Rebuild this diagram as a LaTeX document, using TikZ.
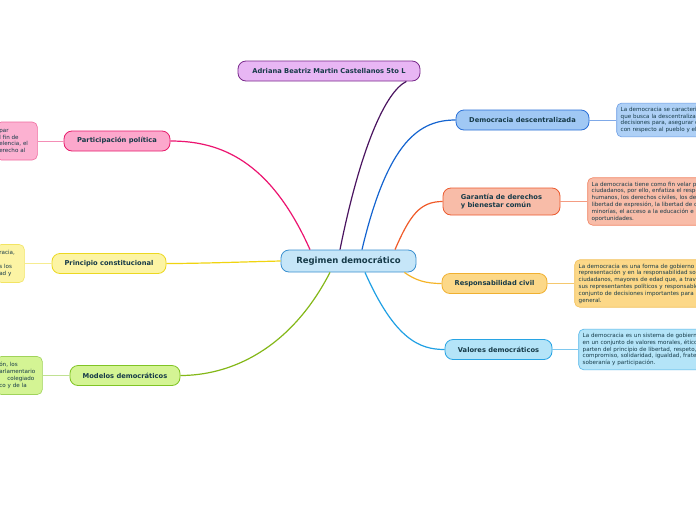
\documentclass[tikz,border=0pt]{standalone}
\usepackage{fontspec}
\setmainfont{DejaVu Sans}
\usetikzlibrary{positioning}

\definecolor{ink}{HTML}{163A48}
\definecolor{rootfill}{HTML}{C6E6F8}  \definecolor{rootline}{HTML}{3A90D0}
\definecolor{authfill}{HTML}{E8B6F4}  \definecolor{authline}{HTML}{7A2A8C}  \definecolor{authwire}{HTML}{4A1460}
\definecolor{descfill}{HTML}{A0C8F4}  \definecolor{descline}{HTML}{2A70D8}  \definecolor{descwire}{HTML}{1464D0}
\definecolor{garfill}{HTML}{F8BCA8}   \definecolor{garline}{HTML}{EC5A2E}   \definecolor{garwire}{HTML}{F05A28}
\definecolor{respfill}{HTML}{FCD888}  \definecolor{respline}{HTML}{F0B030}  \definecolor{respwire}{HTML}{F5B428}
\definecolor{valfill}{HTML}{B4E4F8}   \definecolor{valline}{HTML}{28A4E4}   \definecolor{valwire}{HTML}{20A0E4}
\definecolor{partfill}{HTML}{FCA8CC}  \definecolor{partline}{HTML}{E81C6C}  \definecolor{partwire}{HTML}{EC1470}
\definecolor{prinfill}{HTML}{FCF4A4}  \definecolor{prinline}{HTML}{ECD820}  \definecolor{prinwire}{HTML}{F0D410}
\definecolor{modfill}{HTML}{D4F494}   \definecolor{modline}{HTML}{80C424}   \definecolor{modwire}{HTML}{84B818}

\begin{document}
\begin{tikzpicture}[x=1pt, y=-1pt,
  topic/.style={rectangle, rounded corners=8pt, draw, line width=0.8pt, minimum height=20pt, align=center, text=ink, font=\fontsize{6.7}{8}\selectfont\bfseries},
  note/.style={rectangle, rounded corners=5pt, draw, line width=0.6pt, align=left, inner sep=4pt, text=ink, font=\fontsize{5.6}{6.8}\selectfont},
  branch/.style={line width=1.2pt},
  link/.style={line width=0.7pt}]

\fill[white] (0,0) rectangle (696,520);
\clip (0,0) rectangle (696,520);

% central topic and author
\node[topic, fill=rootfill, draw=rootline, minimum width=135pt, minimum height=22pt, font=\fontsize{8.5}{10}\selectfont\bfseries] (root) at (348.5,261) {Regimen democrático};
\node[topic, fill=authfill, draw=authline, minimum width=182pt] (author) at (329,71) {Adriana Beatriz Martin Castellanos 5to L};

% right branches
\node[topic, fill=descfill, draw=descline, minimum width=133pt] (descent) at (522.5,120) {Democracia descentralizada};
\node[topic, fill=garfill, draw=garline, minimum width=117pt, minimum height=27pt, align=left] (garant) at (501.5,201.5) {Garantía de derechos\\y bienestar común};
\node[topic, fill=respfill, draw=respline, minimum width=105pt] (resp) at (494.5,283.5) {Responsabilidad civil};
\node[topic, fill=valfill, draw=valline, minimum width=107pt] (valores) at (498.5,349.5) {Valores democráticos};

% left branches
\node[topic, fill=partfill, draw=partline, minimum width=106pt] (partic) at (117,141) {Participación política};
\node[topic, fill=prinfill, draw=prinline, minimum width=114pt] (princ) at (109,263.5) {Principio constitucional};
\node[topic, fill=modfill, draw=modline, minimum width=110pt] (modelos) at (125,375.5) {Modelos democráticos};

% notes
\node[note, fill=descfill!85!white, draw=descline!70!white, text width=150pt, minimum height=31pt, right=27pt of descent] (descnote) {La democracia se caracteriza por\\que busca la descentralización de las\\decisiones para, asegurar que\\con respecto al pueblo y el Estado};
\node[note, fill=garfill, draw=garline!75!white, text width=150pt, minimum height=44pt, right=27pt of garant] (garnote) {La democracia tiene como fin velar por los\\ciudadanos, por ello, enfatiza el respeto a\\humanos, los derechos civiles, los derechos\\libertad de expresión, la libertad de culto,\\minorías, el acceso a la educación e igualdad\\oportunidades.};
\node[note, fill=respfill, draw=respline!80!white, text width=150pt, minimum height=44pt, right=27pt of resp] (respnote) {La democracia es una forma de gobierno basada\\representación y en la responsabilidad social\\ciudadanos, mayores de edad que, a través\\sus representantes políticos y responsables\\conjunto de decisiones importantes para la\\general.};
\node[note, fill=valfill, draw=valline!80!white, text width=150pt, minimum height=38pt, right=26pt of valores] (valnote) {La democracia es un sistema de gobierno\\en un conjunto de valores morales, éticos\\parten del principio de libertad, respeto,\\compromiso, solidaridad, igualdad, fraternidad\\soberanía y participación.};
\node[note, fill=partfill!90!white, draw=partline!65!white, text width=35pt, minimum height=38pt, inner xsep=3pt, left=26pt of partic] (partnote) {par\\l fin de\\elencia, el\\erecho al\\[3pt]};
\node[note, fill=prinfill, draw=prinline!70!white, text width=22pt, minimum height=38pt, inner xsep=3pt, left=27pt of princ] (prinnote) {racia,\\\mbox{}\\s los\\ad y\\[3pt]};
\node[note, fill=modfill, draw=modline!75!white, text width=40pt, minimum height=38pt, inner xsep=3pt, left=27pt of modelos] (modnote) {ón, los\\arlamentario\\\hspace*{8pt}colegiado\\co y de la\\[3pt]};

% branches from the central topic
\draw[branch, authwire] ([xshift=-8.5pt]root.north) .. controls (360,150) and (385,92) .. ([xshift=-14pt]author.south east);
\draw[branch, descwire] ([xshift=13.5pt]root.north) .. controls (388,140) and (420,120) .. (descent.west);
\draw[branch, garwire] ([xshift=46.5pt]root.north) .. controls (410,215) and (420,201.5) .. (garant.west);
\draw[branch, respwire] ([xshift=-12pt]root.south east) .. controls (415,280) and (425,283.5) .. (resp.west);
\draw[branch, valwire] ([xshift=16.5pt]root.south) .. controls (395,340) and (420,349.5) .. (valores.west);
\draw[branch, partwire] ([xshift=-38.5pt]root.north) .. controls (270,160) and (220,141) .. (partic.east);
\draw[branch, prinwire] (root.west) .. controls (240,262) and (200,263.5) .. (princ.east);
\draw[branch, modwire] ([xshift=-18.5pt]root.south) .. controls (290,350) and (230,375.5) .. (modelos.east);

% links to notes
\draw[link, descline!60!white] (descent) -- (descnote);
\draw[link, garline!60!white] (garant) -- (garnote);
\draw[link, respline!70!white] (resp) -- (respnote);
\draw[link, valline!60!white] (valores) -- (valnote);
\draw[link, partline!50!white] (partic) -- (partnote);
\draw[link, prinline!50!white] (princ) -- (prinnote);
\draw[link, modline!50!white] (modelos) -- (modnote);

\end{tikzpicture}
\end{document}
